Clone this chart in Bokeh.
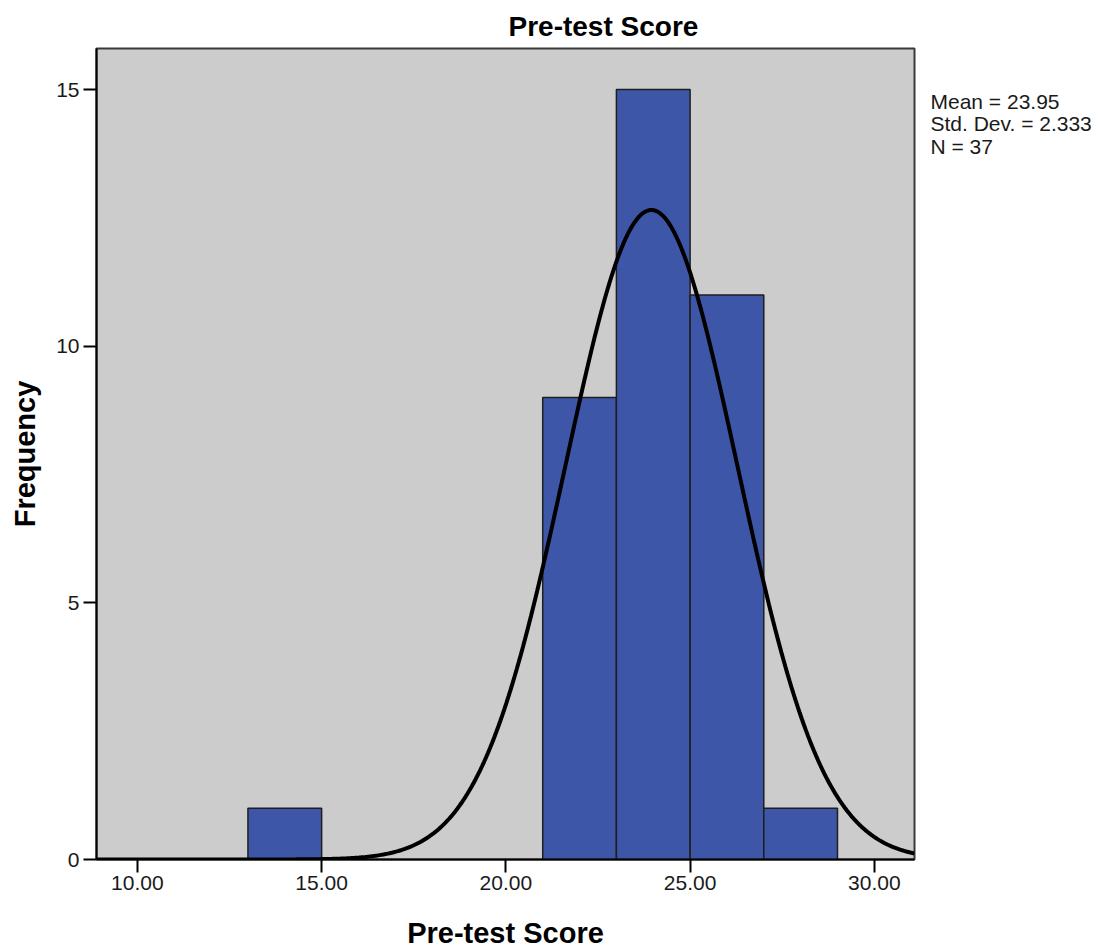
import numpy as np
from bokeh.plotting import figure
from bokeh.layouts import row
from bokeh.models import Range1d, FixedTicker, NumeralTickFormatter, ColumnDataSource
from bokeh.core.properties import value
from bokeh.embed import file_html
from bokeh.resources import INLINE

# ---- data ----
bin_left = [13, 21, 23, 25, 27]
bin_right = [15, 23, 25, 27, 29]
counts = [1, 9, 15, 11, 1]
mean_val = 23.95
std_val = 2.333
n_val = 37
bin_width = 2
x_ticks = [10, 15, 20, 25, 30]
y_ticks = [0, 5, 10, 15]
stats_lines = ["Mean = 23.95", "Std. Dev. = 2.333", "N = 37"]

FONT = "Liberation Sans"

p = figure(width=920, height=952, output_backend="svg", toolbar_location=None,
           x_range=Range1d(8.89, 31.09), y_range=Range1d(0, 15.8),
           min_border_left=96, min_border_right=6, min_border_top=48, min_border_bottom=93)

p.background_fill_color = "#cccccc"
p.border_fill_color = "white"
p.outline_line_color = "#3a3a3a"
p.outline_line_width = 2
p.xgrid.visible = False
p.ygrid.visible = False

p.title.text = "Pre-test Score"
p.title.text_font = FONT
p.title.text_font_size = "28px"
p.title.text_font_style = "bold"
p.title.text_color = "black"
p.title.align = "left"
p.title.offset = 412
p.title.standoff = 14

src = ColumnDataSource(dict(left=bin_left, right=bin_right, top=counts, bottom=[0]*len(counts)))
p.quad(left="left", right="right", top="top", bottom="bottom", source=src,
       fill_color="#3e56a8", line_color="#1e1e1e", line_width=1.5)

# fitted normal curve
xs = np.linspace(8.89, 31.09, 400)
ys = n_val * bin_width * np.exp(-0.5 * ((xs - mean_val) / std_val) ** 2) / (std_val * np.sqrt(2 * np.pi))
p.line(xs, ys, line_color="black", line_width=4)

# axes
for ax in (p.xaxis[0], p.yaxis[0]):
    ax.axis_line_color = "black"
    ax.axis_line_width = 2
    ax.major_tick_line_color = "black"
    ax.major_tick_line_width = 2
    ax.major_tick_out = 13
    ax.major_tick_in = 0
    ax.minor_tick_line_color = None
    ax.major_label_text_font = FONT
    ax.major_label_text_font_size = "21px"
    ax.major_label_text_color = "#1a1a1a"
    ax.axis_label_text_font = FONT
    ax.axis_label_text_font_size = "29px"
    ax.axis_label_text_font_style = "bold"
    ax.axis_label_text_color = "black"

p.xaxis.ticker = FixedTicker(ticks=x_ticks)
p.xaxis.formatter = NumeralTickFormatter(format="0.00")
p.xaxis.major_label_standoff = 3
p.xaxis.axis_label = "Pre-test Score"
p.xaxis.axis_label_standoff = 24

p.yaxis.ticker = FixedTicker(ticks=y_ticks)
p.yaxis.major_label_standoff = 4
p.yaxis.axis_label = "Frequency"
p.yaxis.axis_label_standoff = 12

# side panel with summary statistics (shares the main y scale)
side = figure(width=180, height=952, output_backend="svg", toolbar_location=None,
              x_range=Range1d(0, 180), y_range=p.y_range,
              x_axis_location=None, y_axis_location=None,
              min_border_left=0, min_border_right=0, min_border_top=48, min_border_bottom=93)
side.grid.visible = False
side.outline_line_color = None
side.background_fill_color = "white"
side.border_fill_color = "white"
side.text(x=[10, 10, 10], y=[14.77, 14.33, 13.89], text=stats_lines,
          text_font=value(FONT), text_font_size=value("21px"),
          text_baseline="alphabetic", text_align="left", text_color="#1a1a1a")

layout = row(p, side, spacing=0)
open("out.html", "w").write(file_html(layout, INLINE))
